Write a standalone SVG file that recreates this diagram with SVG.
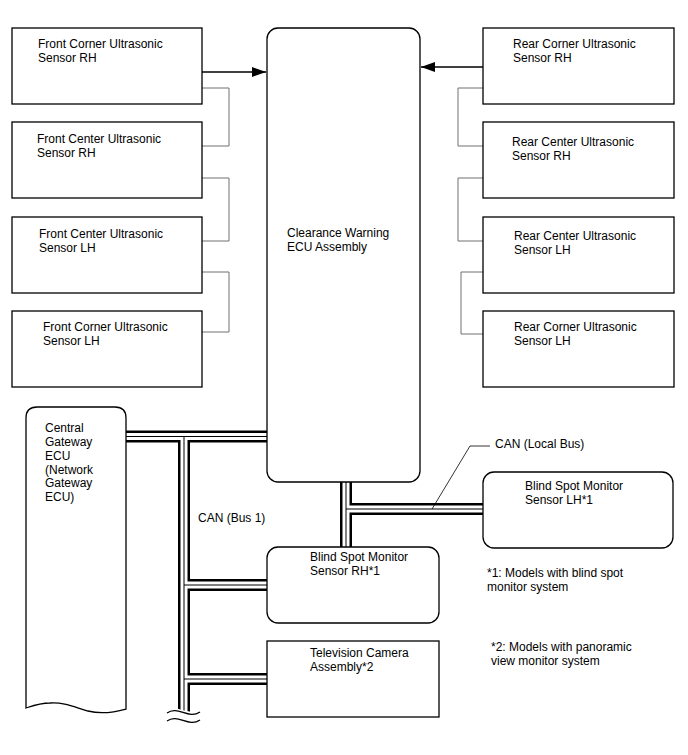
<svg xmlns="http://www.w3.org/2000/svg" width="688" height="755" viewBox="0 0 688 755">
<style>
.box{fill:#fff;stroke:#000;stroke-width:1.3}
.t{font-family:"Liberation Sans",Arial,sans-serif;font-size:12px;fill:#000}
.g{fill:none;stroke:#707070;stroke-width:1}
.ln{fill:none;stroke:#000;stroke-width:1.3}
.bo{fill:none;stroke:#000;stroke-width:12}
.bw{fill:none;stroke:#fff;stroke-width:7}
.bc{fill:none;stroke:#000;stroke-width:1}
.thin{fill:none;stroke:#000;stroke-width:0.8}
</style>
<defs>
<marker id="ah" markerWidth="14" markerHeight="10" refX="14" refY="5" orient="auto" markerUnits="userSpaceOnUse">
<path d="M0,0 L14,5 L0,10 Z" fill="#000"/>
</marker>
</defs>
<rect width="688" height="755" fill="#fff"/>
<g id="connectors">
<path class="g" d="M202,88 H229 V146 H202"/>
<path class="g" d="M202,178 H229 V241 H202"/>
<path class="g" d="M202,272 H229 V332 H202"/>
<path class="g" d="M483,88 H458 V146 H483"/>
<path class="g" d="M483,178 H458 V241 H483"/>
<path class="g" d="M483,272 H461 V334 H483"/>
<path class="ln" d="M202,72 H266" marker-end="url(#ah)"/>
<path class="ln" d="M483,67 H421" marker-end="url(#ah)"/>
<g id="bus1">
<path class="bo" d="M126,436.5 H267 M184,436.5 V712 M184,585 H267 M184,679 H267"/>
<path class="bw" d="M126,436.5 H267 M184,436.5 V712 M184,585 H267 M184,679 H267"/>
<path class="bc" d="M126,436.5 H267 M184,436.5 V712 M184,585 H267 M184,679 H267"/>
</g>
<g id="localbus">
<path class="bo" d="M346,482 V547 M346,509 H483"/>
<path class="bw" d="M346,482 V547 M346,509 H483"/>
<path class="bc" d="M346,482 V547 M346,509 H483"/>
</g>
<path fill="#fff" stroke="none" d="M166,709 C176,704 186,716 202,710 V740 H166 Z"/>
<path class="ln" d="M167,713 C178,705 188,720 200,712"/>
<path class="ln" d="M167,721 C178,713 188,728 200,720"/>
<path class="thin" d="M432,509 L470,446 H490"/>
<text class="t" x="495" y="448">CAN (Local Bus)</text>
<text class="t" x="198" y="522">CAN (Bus 1)</text>
</g>
<g id="fcrh"><rect class="box" x="12" y="28" width="190" height="76"/><text class="t" x="38" y="48">Front Corner Ultrasonic</text><text class="t" x="38" y="62">Sensor RH</text></g>
<g id="fcerh"><rect class="box" x="12" y="122" width="190" height="76"/><text class="t" x="37" y="143">Front Center Ultrasonic</text><text class="t" x="37" y="157">Sensor RH</text></g>
<g id="fcelh"><rect class="box" x="12" y="217" width="190" height="76"/><text class="t" x="39" y="238">Front Center Ultrasonic</text><text class="t" x="39" y="252">Sensor LH</text></g>
<g id="fclh"><rect class="box" x="12" y="311" width="190" height="76"/><text class="t" x="43" y="331">Front Corner Ultrasonic</text><text class="t" x="43" y="345">Sensor LH</text></g>
<g id="rcrh"><rect class="box" x="483" y="28" width="191" height="76"/><text class="t" x="513" y="48">Rear Corner Ultrasonic</text><text class="t" x="513" y="62">Sensor RH</text></g>
<g id="rcerh"><rect class="box" x="483" y="122" width="191" height="76"/><text class="t" x="512" y="146">Rear Center Ultrasonic</text><text class="t" x="512" y="160">Sensor RH</text></g>
<g id="rcelh"><rect class="box" x="483" y="217" width="191" height="76"/><text class="t" x="514" y="240">Rear Center Ultrasonic</text><text class="t" x="514" y="254">Sensor LH</text></g>
<g id="rclh"><rect class="box" x="483" y="311" width="191" height="76"/><text class="t" x="514" y="331">Rear Corner Ultrasonic</text><text class="t" x="514" y="345">Sensor LH</text></g>
<g id="ecu"><rect class="box" x="267" y="28" width="153" height="454" rx="11"/><text class="t" x="287" y="237">Clearance Warning</text><text class="t" x="287" y="251">ECU Assembly</text></g>
<g id="gateway"><path class="box" d="M26,708 V418 Q26,407 37,407 H115 Q126,407 126,418 V709 C112,713 100,714 88,711 C74,707 64,702 50,703 C40,703 32,706 26,708 Z"/>
<text class="t" x="45" y="432">Central</text><text class="t" x="45" y="446">Gateway</text><text class="t" x="45" y="460">ECU</text><text class="t" x="45" y="474">(Network</text><text class="t" x="45" y="487">Gateway</text><text class="t" x="45" y="501">ECU)</text></g>
<g id="bsmlh"><rect class="box" x="483" y="472" width="190" height="76" rx="11"/><text class="t" x="525" y="490">Blind Spot Monitor</text><text class="t" x="525" y="504">Sensor LH*1</text></g>
<g id="bsmrh"><rect class="box" x="267" y="547" width="172" height="76" rx="11"/><text class="t" x="310" y="561">Blind Spot Monitor</text><text class="t" x="310" y="575">Sensor RH*1</text></g>
<g id="tv"><rect class="box" x="267" y="641" width="172" height="76"/><text class="t" x="310" y="657">Television Camera</text><text class="t" x="310" y="671">Assembly*2</text></g>
<g id="notes"><text class="t" x="487" y="577">*1: Models with blind spot</text><text class="t" x="487" y="591">monitor system</text><text class="t" x="491" y="651">*2: Models with panoramic</text><text class="t" x="491" y="665">view monitor system</text></g>
</svg>
